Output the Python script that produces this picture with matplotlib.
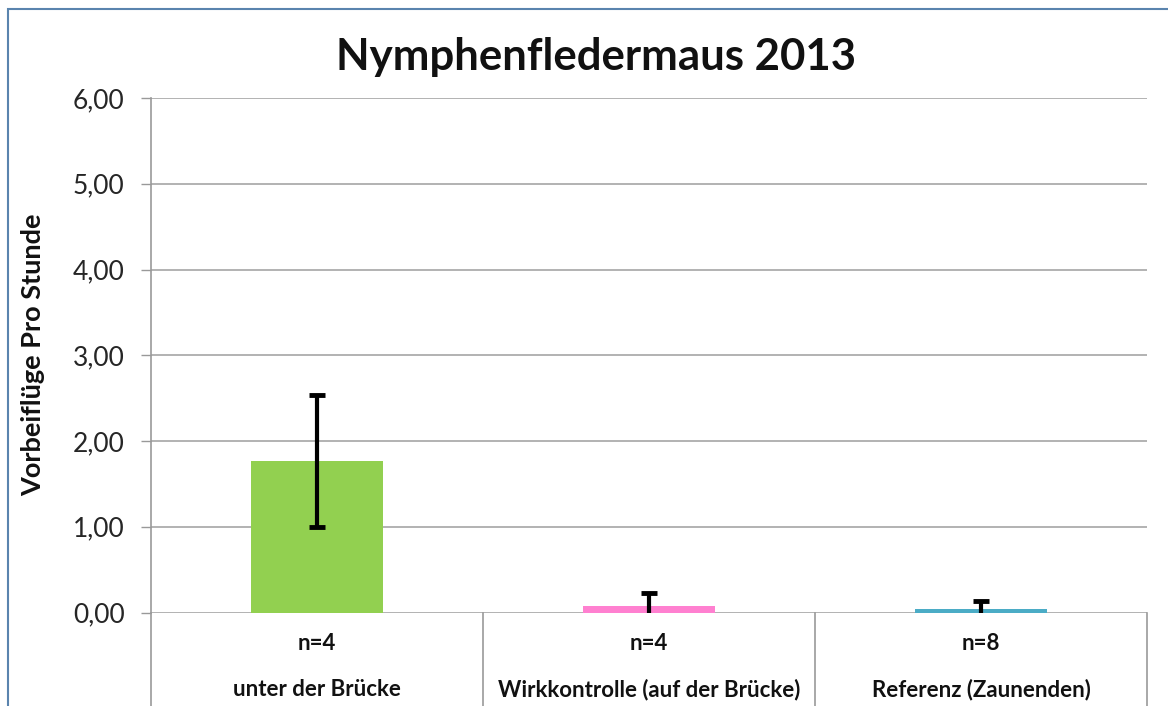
import matplotlib
matplotlib.use("Agg")
import matplotlib.pyplot as plt
from matplotlib.patches import Rectangle
from matplotlib.lines import Line2D

# ---- data ----
categories = ["unter der Brücke", "Wirkkontrolle (auf der Brücke)", "Referenz (Zaunenden)"]
n_labels = ["n=4", "n=4", "n=8"]
values = [1.77, 0.08, 0.04]
errors = [0.77, 0.15, 0.09]
colors = ["#92D050", "#FF80D0", "#4BACC6"]
yticks = [0, 1, 2, 3, 4, 5, 6]
ytick_labels = ["0,00", "1,00", "2,00", "3,00", "4,00", "5,00", "6,00"]
title = "Nymphenfledermaus 2013"
ylabel = "Vorbeiflüge Pro Stunde"

W, H = 1168, 706
fig = plt.figure(figsize=(W / 100, H / 100), dpi=100)
plt.rcParams['font.family'] = ['Lato', 'DejaVu Sans']

ax = fig.add_axes([151 / W, 1 - 612.5 / H, (1147 - 151) / W, (612.5 - 98) / H])
x = list(range(len(categories)))
ax.bar(x, values, width=0.4, color=colors, zorder=3)
ax.errorbar(x, values, yerr=errors, fmt="none", ecolor="black", elinewidth=3,
            capsize=5.5, capthick=3.5, zorder=4)

ax.set_xlim(-0.5, len(categories) - 0.5)
ax.set_ylim(0, 6)
ax.set_yticks(yticks)
ax.set_yticklabels(ytick_labels, fontsize=19, color="#262626")
ax.tick_params(axis="y", length=7, width=1, color="#999999", pad=12)
ax.set_xticks([])
ax.grid(axis="y", color="#A6A6A6", linewidth=1.2, zorder=0)
for s in ["top", "right", "bottom"]:
    ax.spines[s].set_visible(False)
ax.spines["left"].set_color("#999999")
ax.spines["left"].set_linewidth(1.2)

# category separators (multi-level category axis)
trans = ax.get_xaxis_transform()
for b in [i - 0.5 for i in range(len(categories) + 1)]:
    ax.add_line(Line2D([b, b], [0, -0.3], transform=trans, color="#999999",
                       linewidth=1.2, clip_on=False))
for i, (n, c) in enumerate(zip(n_labels, categories)):
    ax.text(i, -(643 - 612.5) / (612.5 - 98), n, transform=trans, ha="center",
            va="center", fontsize=16, fontweight="bold", color="#111111")
    ax.text(i, -(690 - 612.5) / (612.5 - 98), c, transform=trans, ha="center",
            va="center", fontsize=16, fontweight="bold", color="#111111")

fig.text(596 / W, 1 - 57 / H, title, ha="center", va="center", fontsize=31.5,
         fontweight="bold", color="#111111")
fig.text(33 / W, 1 - 355 / H, ylabel, ha="center", va="center", rotation=90,
         fontsize=19.5, fontweight="bold", color="#111111")

# outer chart border (cropped screenshot)
fig.add_artist(Rectangle((8 / W, -0.1), 1.2, 1 - 8.5 / H + 0.1, transform=fig.transFigure,
                         fill=False, edgecolor="#5A84AE", linewidth=1.5))

fig.savefig("out.png", dpi=100)
